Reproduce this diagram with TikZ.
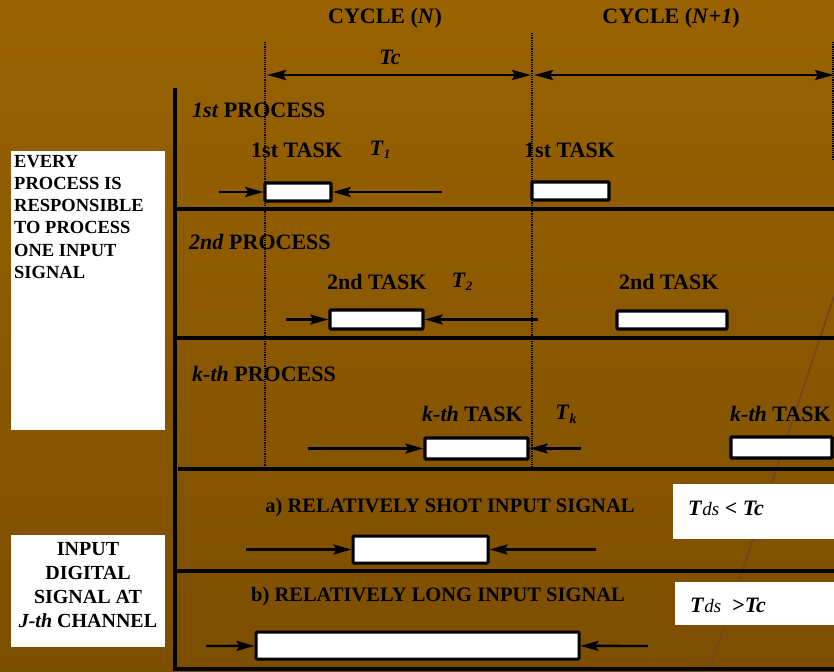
\documentclass[tikz,border=0pt]{standalone}
\usepackage{fontspec}
\setmainfont{Liberation Serif}
\usetikzlibrary{arrows.meta}
\definecolor{bgtop}{RGB}{153,99,0}
\definecolor{bgbot}{RGB}{124,78,0}
\definecolor{streak}{RGB}{112,66,44}
\newcommand{\fsz}[1]{\fontsize{#1}{#1}\selectfont}
\newcommand{\tsub}[1]{\textit{T}\raisebox{-3pt}{\fsz{13}\itshape #1}}
\newcommand{\tds}{\textit{T}{\mdseries\itshape\fsz{19}ds}}
\begin{document}
\begin{tikzpicture}[
    x=1pt, y=-1pt,  % on compte en pixels, vers le bas
    every node/.style={font=\bfseries\fsz{22}, inner sep=0pt},
    taskbox/.style={draw, line width=3.4pt, fill=white, rounded corners=1pt},
    note/.style={fill=white, anchor=north west},
    frame/.style={line width=3.2pt},
    cut/.style={line width=1.2pt, densely dotted},
    arr/.style={line width=2.4pt, -{Stealth[length=18pt, width=10pt, inset=3pt]}},
    span/.style={line width=2.6pt, {Stealth[length=19pt, width=10pt, inset=3pt]}-{Stealth[length=19pt, width=10pt, inset=3pt]}}
]
% Fond
\shade[top color=bgtop, bottom color=bgbot] (0,0) rectangle (834,671);
\useasboundingbox (0,0) rectangle (834,671);
\draw[streak, line width=1.3pt] (834,296) -- (709,671);

% Cycles
\node (cycN) at (385,18) {CYCLE (\textit{N})};
\node (cycM) at (671,18) {CYCLE (\textit{N}+\textit{1})};
\node (tc) at (390,57) {\textit{Tc}};
\coordinate (c0) at (265,42);  \coordinate (c0b) at (265,467);
\coordinate (c1) at (532,33);  \coordinate (c1b) at (532,470);
\coordinate (c2) at (833,42);  \coordinate (c2b) at (833,160);
\draw[cut] (c0) -- (c0b);
\draw[cut, line width=1.5pt] (c1) -- (c1b);
\draw[cut] (c2) -- (c2b);
\coordinate (tcA) at (267,75); \coordinate (tcB) at (531,75);
\coordinate (tcC) at (534,75); \coordinate (tcD) at (834,75);
\draw[span] (tcA) -- (tcB);
\draw[span] (tcC) -- (tcD);

% Cadre
\draw[frame] (175,88) -- (175,671);
\draw[frame] (175,209) -- (834,209);
\draw[frame] (175,338) -- (834,338);
\draw[frame] (178,469) -- (834,469);
\draw[frame] (175,571) -- (834,571);
\draw[frame] (175,669) -- (834,669);

% 1er processus
\node[anchor=west] (p1) at (192,110) {\textit{1st} PROCESS};
\node[anchor=west] (t1) at (251,150) {1st TASK};
\node (T1) at (380,150) {\tsub{1}};
\node[anchor=west] (t1b) at (524,150) {1st TASK};
\node[taskbox, minimum width=66, minimum height=18] (b11) at (298,192) {};
\node[taskbox, minimum width=77, minimum height=18] (b12) at (570.5,191) {};
\coordinate (a11) at (219,192); \coordinate (a12) at (442,192);
\draw[arr] (a11) -- (b11);
\draw[arr] (a12) -- (b11);

% 2e processus
\node[anchor=west] (p2) at (189,242) {\textit{2nd} PROCESS};
\node[anchor=west] (t2) at (327,282) {2nd TASK};
\node (T2) at (462,282) {\tsub{2}};
\node[anchor=west] (t2b) at (619,282) {2nd TASK};
\node[taskbox, minimum width=93, minimum height=19] (b21) at (376.5,319.5) {};
\node[taskbox, minimum width=110, minimum height=18] (b22) at (672,320) {};
\coordinate (a21) at (286,319.5); \coordinate (a22) at (538,319.5);
\draw[arr] (a21) -- (b21);
\draw[arr] (a22) -- (b21);

% k-ieme processus
\node[anchor=west] (pk) at (192,374) {\textit{k-th} PROCESS};
\node[anchor=west] (tk) at (422,414) {\textit{k-th} TASK};
\node (Tk) at (566,414) {\textit{T}\raisebox{-4pt}{\fsz{14}\itshape k}};
\node[anchor=west] (tkb) at (730,414) {\textit{k-th} TASK};
\node[taskbox, minimum width=103, minimum height=21] (bk1) at (476.5,448.5) {};
\node[taskbox, minimum width=101, minimum height=21] (bk2) at (781.5,447.5) {};
\coordinate (ak1) at (308,448.5); \coordinate (ak2) at (581,448.5);
\draw[arr] (ak1) -- (bk1);
\draw[arr] (ak2) -- (bk1);

% Signal d'entree
\node (sa) at (450,508) {\fsz{20.5}a) RELATIVELY SHOT INPUT SIGNAL};
\node[taskbox, line width=3pt, minimum width=135, minimum height=27] (bsa) at (420.5,549.5) {};
\coordinate (asa1) at (246,549.5); \coordinate (asa2) at (596,549.5);
\draw[arr] (asa1) -- (bsa);
\draw[arr] (asa2) -- (bsa);
\node (sb) at (438,597) {\fsz{20.5}b) RELATIVELY LONG INPUT SIGNAL};
\node[taskbox, line width=3pt, minimum width=323, minimum height=27] (bsb) at (417.5,645.5) {};
\coordinate (asb1) at (206,646); \coordinate (asb2) at (648,646);
\draw[arr] (asb1) -- (bsb);
\draw[arr] (asb2) -- (bsb);

% Comparaisons
\node[note, minimum width=161, minimum height=55] (ca) at (673,484) {};
\node[anchor=west] (cat) at (688,508) {\tds\ \textless\ \textit{Tc}};
\node[note, minimum width=159, minimum height=43] (cb) at (675,582) {};
\node[anchor=west] (cbt) at (690,605) {\tds\ \ \textgreater\textit{Tc}};

% Notes a gauche
\node[note, minimum width=154, minimum height=279] (every) at (11,151) {};
\node[anchor=north west, align=left, font=\bfseries\fontsize{18.5}{22.2}\selectfont]
    (everyt) at (14,155) {EVERY\\PROCESS IS\\RESPONSIBLE\\TO PROCESS\\ONE INPUT\\SIGNAL};
\node[note, minimum width=154, minimum height=112] (input) at (11,535) {};
\node[align=center, font=\bfseries\fontsize{20}{24}\selectfont]
    (inputt) at (88,585) {INPUT\\DIGITAL\\SIGNAL AT\\\textit{J-th} CHANNEL};
\end{tikzpicture}
\end{document}
